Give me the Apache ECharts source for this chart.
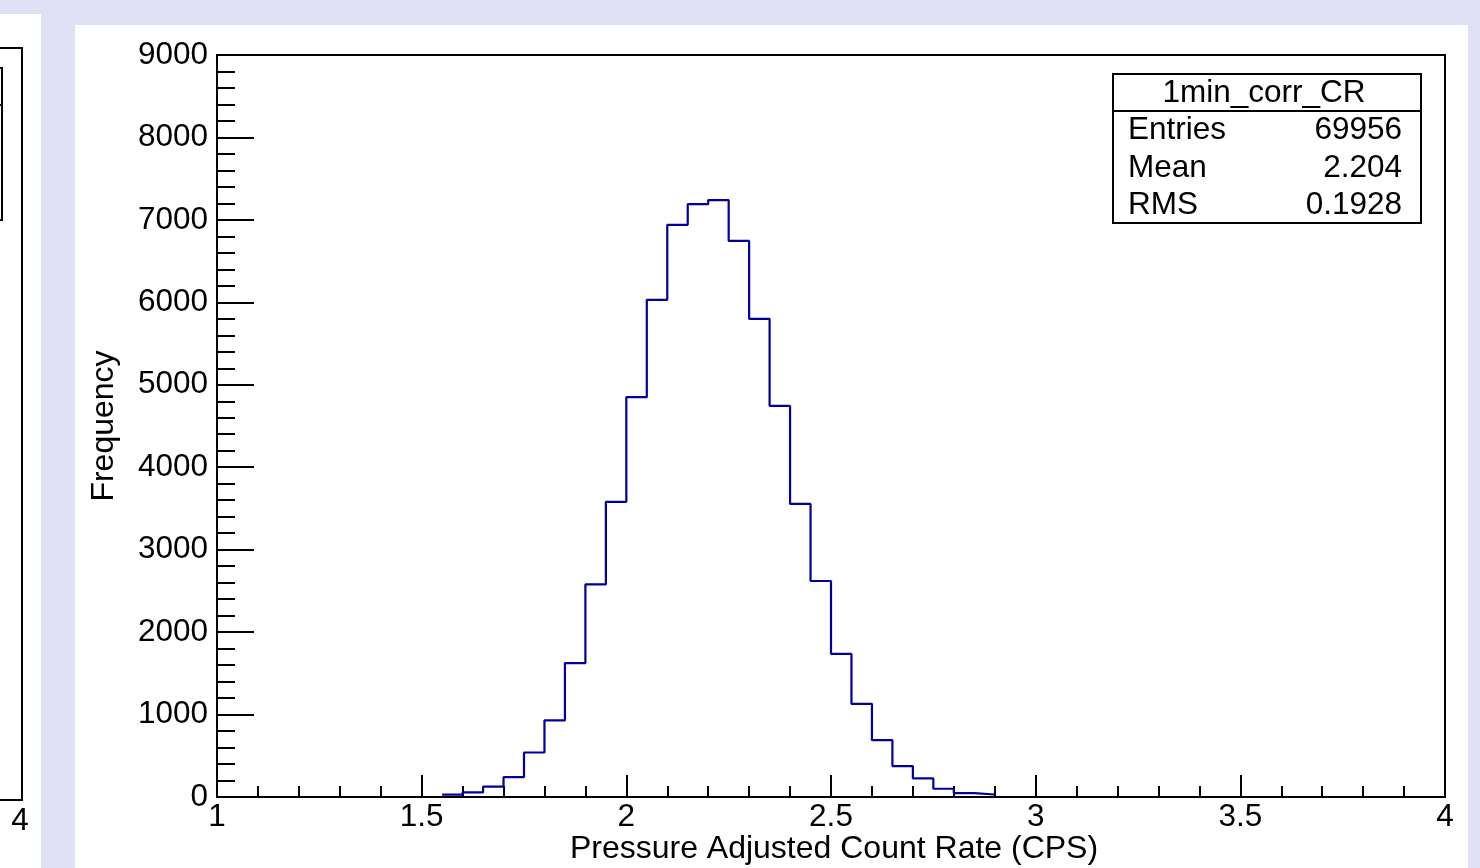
<!DOCTYPE html>
<html>
<head>
<meta charset="utf-8">
<script src="https://cdn.jsdelivr.net/npm/echarts@6/dist/echarts.min.js"></script>
<style>
html,body{margin:0;padding:0;background:#e1e1f5;}
#main{width:1480px;height:868px;}
</style>
</head>
<body>
<div id="main"></div>
<script>
// Histogram bin edges (x, CPS) and counts per bin
const binEdges = [1.55,1.60,1.65,1.70,1.75,1.80,1.85,1.90,1.95,2.00,2.05,2.10,2.15,2.20,2.25,2.30,2.35,2.40,2.45,2.50,2.55,2.60,2.65,2.70,2.75,2.80,2.85,2.90];
const counts = [30,55,125,240,540,930,1625,2580,3580,4850,6030,6940,7190,7240,6745,5800,4745,3555,2620,1735,1130,690,375,225,100,48,30];
const statsTitle = '1min_corr_CR';
const statsLabels = ['Entries','Mean','RMS'];
const statsValues = ['69956','2.204','0.1928'];
const xAxisTitle = 'Pressure Adjusted Count Rate (CPS)';
const yAxisTitle = 'Frequency';

const stepData = [];
for (let i = 0; i < counts.length; i++) stepData.push([binEdges[i], counts[i]]);
stepData.push([binEdges[binEdges.length - 1], counts[counts.length - 1]]);

const FONT = 'Liberation Sans, Arial, sans-serif';
const FS = 31.5;
const FT = 32;

const chart = echarts.init(document.getElementById('main'), null, {renderer: 'canvas'});

const graphics = [
  // left partial panel
  {type:'rect', z:-10, shape:{x:0,y:14,width:41,height:854}, style:{fill:'#ffffff'}, silent:true},
  {type:'polyline', z:5, shape:{points:[[0,48],[22,48],[22,800],[0,800]]}, style:{stroke:'#000',lineWidth:2,fill:null}},
  {type:'polyline', z:5, shape:{points:[[0,68],[2,68],[2,220],[0,220]]}, style:{stroke:'#000',lineWidth:2,fill:null}},
  {type:'line', z:5, shape:{x1:0,y1:105,x2:2,y2:105}, style:{stroke:'#000',lineWidth:2}},
  {type:'text', z:5, style:{x:20,y:821,text:'4',font:FS+'px '+FONT,fill:'#000',align:'center',verticalAlign:'middle'}},
  // main panel
  {type:'rect', z:-10, shape:{x:75,y:25,width:1393,height:843}, style:{fill:'#ffffff'}, silent:true},
  // stats box
  {type:'rect', z:20, shape:{x:1113,y:74,width:308,height:149}, style:{fill:'#ffffff',stroke:'#000',lineWidth:2}},
  {type:'line', z:21, shape:{x1:1113,y1:111,x2:1421,y2:111}, style:{stroke:'#000',lineWidth:2}},
  {type:'text', z:21, style:{x:1264,y:93,text:statsTitle,font:FS+'px '+FONT,fill:'#000',align:'center',verticalAlign:'middle'}}
];
const rowY = [130,168,205];
for (let i = 0; i < statsLabels.length; i++) {
  graphics.push({type:'text', z:21, style:{x:1128,y:rowY[i],text:statsLabels[i],font:FS+'px '+FONT,fill:'#000',align:'left',verticalAlign:'middle'}});
  graphics.push({type:'text', z:21, style:{x:1402,y:rowY[i],text:statsValues[i],font:FS+'px '+FONT,fill:'#000',align:'right',verticalAlign:'middle'}});
}

const option = {
  backgroundColor: '#e1e1f5',
  animation: false,
  textStyle: {fontFamily: FONT},
  grid: {left:217, right:35, top:55, bottom:71, show:true, borderColor:'#000', borderWidth:2, backgroundColor:'transparent', containLabel:false, outerBoundsMode:'none'},
  graphic: graphics,
  xAxis: {
    type:'value', min:1, max:4, interval:0.5,
    name: xAxisTitle, nameLocation:'middle', nameGap:36, nameMoveOverlap:false,
    nameTextStyle:{fontSize:FT, color:'#000', fontFamily:FONT, padding:[0,0,0,6]},
    axisLine:{show:true, onZero:false, lineStyle:{color:'#000', width:2}},
    axisTick:{show:true, inside:true, length:22, lineStyle:{color:'#000', width:2}},
    minorTick:{show:true, splitNumber:5, length:11, lineStyle:{color:'#000', width:2}},
    axisLabel:{fontSize:FS, color:'#000', margin:4, fontFamily:FONT, showMaxLabel:true, showMinLabel:true, formatter:function(v){return String(v);}},
    splitLine:{show:false}
  },
  yAxis: {
    type:'value', min:0, max:9000, interval:1000,
    name: yAxisTitle, nameLocation:'middle', nameGap:97, nameRotate:90, nameMoveOverlap:false,
    nameTextStyle:{fontSize:FT, color:'#000', fontFamily:FONT},
    axisLine:{show:true, lineStyle:{color:'#000', width:2}},
    axisTick:{show:true, inside:true, length:37, lineStyle:{color:'#000', width:2}},
    minorTick:{show:true, splitNumber:5, length:18, lineStyle:{color:'#000', width:2}},
    axisLabel:{fontSize:FS, color:'#000', margin:9, fontFamily:FONT, formatter:function(v){return String(v);}},
    splitLine:{show:false}
  },
  series: [{
    type:'line', step:'end', data: stepData, symbol:'none',
    lineStyle:{color:'#00009c', width:2.2}, itemStyle:{color:'#00009c'}, z:3
  }]
};
chart.setOption(option);
</script>
</body>
</html>
